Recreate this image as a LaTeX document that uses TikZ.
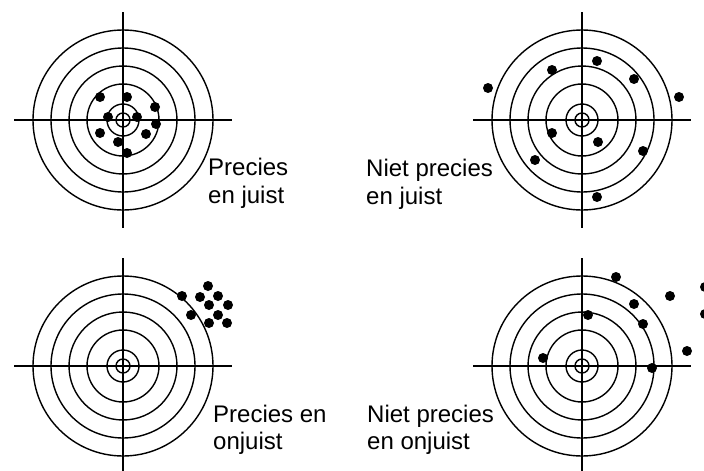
\documentclass[tikz,border=0pt]{standalone}
\usepackage{fontspec}
\setmainfont{Liberation Sans}
\begin{document}
\begin{tikzpicture}[x=1pt,y=-1pt,
  ring/.style={draw=black,line width=1.4pt},
  cross/.style={draw=black,line width=1.4pt},
  hit/.style={fill=black},
  lbl/.style={anchor=base west,inner sep=0pt,font=\fontsize{24}{28}\selectfont,text=black}]
\useasboundingbox (0,0) rectangle (704,471);
\clip (0,0) rectangle (704,471);
\fill[white] (0,0) rectangle (704,471);
% targets
\foreach \n/\cx/\cy in {tl/123/120, tr/582/120, bl/123/366, br/582/366}{
  \coordinate (\n) at (\cx,\cy);
  \foreach \r in {90,72,54,36,16,7}{
    \draw[ring] (\n) circle[radius=\r];
  }
  \draw[cross] ([xshift=-109pt]\n) -- ([xshift=109pt]\n);
  \draw[cross] ([yshift=108pt]\n) -- ([yshift=-108pt]\n);
}
% hits: precise and accurate
\foreach \x/\y in {100/97,127/97,155/107,108/117,137/117,156/124,100/133,146/134,118/142,127/153}{
  \fill[hit] (\x,\y) circle[radius=5];
}
% hits: not precise, accurate
\foreach \x/\y in {488/88,552/70,597/61,634/79,679/97,552/133,598/142,643/151,535/160,597/197}{
  \fill[hit] (\x,\y) circle[radius=5];
}
% hits: precise, not accurate
\foreach \x/\y in {182/296,208/286,200/297,218/296,209/305,228/305,191/315,218/315,209/323,227/323}{
  \fill[hit] (\x,\y) circle[radius=5];
}
% hits: not precise, not accurate
\foreach \x/\y in {616/277,670/296,705/287,634/304,705/314,588/315,643/324,687/351,543/358,652/368}{
  \fill[hit] (\x,\y) circle[radius=5];
}
% labels
\node[lbl] (t1a) at (208,175) {Precies};
\node[lbl] (t1b) at (208,203) {en juist};
\node[lbl] (t2a) at (366,176) {Niet precies};
\node[lbl] (t2b) at (366,204) {en juist};
\node[lbl] (t3a) at (213,422) {Precies en};
\node[lbl] (t3b) at (213,449) {onjuist};
\node[lbl] (t4a) at (367,422) {Niet precies};
\node[lbl] (t4b) at (367,449) {en onjuist};
\end{tikzpicture}
\end{document}
